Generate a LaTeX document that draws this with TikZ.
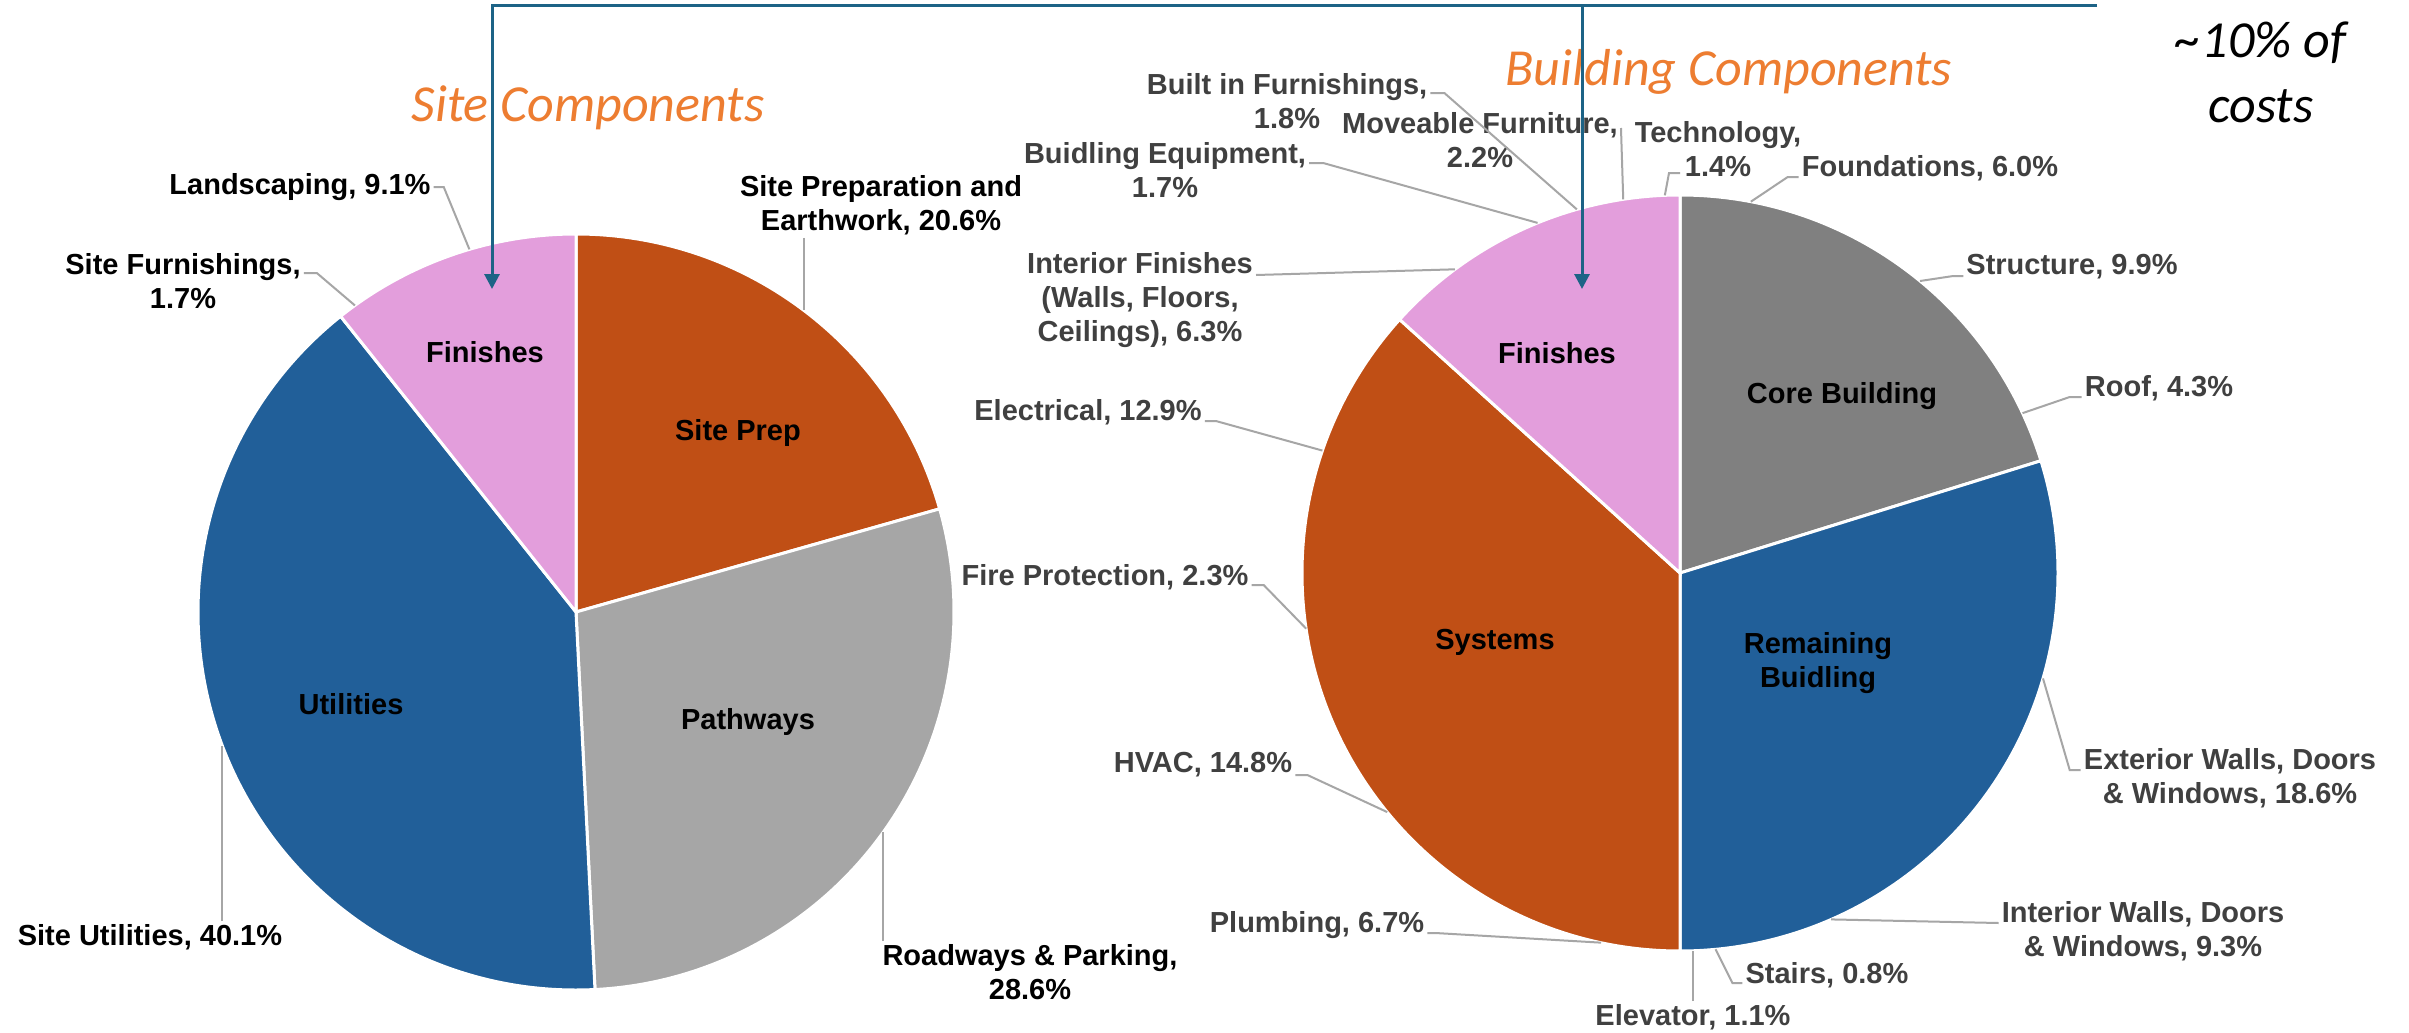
\documentclass[tikz,border=0pt]{standalone}
\usepackage{fontspec}
\setmainfont{Liberation Sans}
\newfontfamily\calibri{Carlito}
\usetikzlibrary{arrows.meta}

\definecolor{preporange}{RGB}{192,79,21}
\definecolor{pathgray}{RGB}{166,166,166}
\definecolor{coregray}{RGB}{128,128,128}
\definecolor{utilblue}{RGB}{33,95,153}
\definecolor{finpink}{RGB}{227,158,220}
\definecolor{titleorange}{RGB}{237,125,49}
\definecolor{arrowblue}{RGB}{29,99,134}
\definecolor{leadergray}{RGB}{166,166,166}
\definecolor{labelgray}{RGB}{64,64,64}

\begin{document}
\begin{tikzpicture}[
  x=1pt, y=-1pt,
  every node/.style={inner sep=3pt, align=center, font=\fontsize{29}{34}\selectfont\bfseries},
  sitelabel/.style={text=black},
  bldglabel/.style={text=labelgray},
  slicelabel/.style={text=black},
  charttitle/.style={font=\calibri\itshape\fontsize{52}{65}\selectfont, text=titleorange},
  note/.style={font=\calibri\itshape\fontsize{52}{65}\selectfont, text=black},
  slice/.style={draw=white, line width=3pt},
  leader/.style={draw=leadergray, line width=2pt},
  blueline/.style={draw=arrowblue, line width=3pt}
]
\useasboundingbox[fill=white] (0,0) rectangle (2409,1033);

% Camembert gauche
\begin{scope}[shift={(576,612)}]
  \filldraw[slice, fill=preporange] (0,0) -- (90:378pt) arc[start angle=90, end angle=15.84, radius=378pt] -- cycle;
  \filldraw[slice, fill=pathgray] (0,0) -- (15.84:378pt) arc[start angle=15.84, end angle=-87.12, radius=378pt] -- cycle;
  \filldraw[slice, fill=utilblue] (0,0) -- (-87.12:378pt) arc[start angle=-87.12, end angle=-231.48, radius=378pt] -- cycle;
  \filldraw[slice, fill=finpink] (0,0) -- (128.52:378pt) arc[start angle=128.52, end angle=90, radius=378pt] -- cycle;
  \coordinate (p-sprep) at (52.92:378pt);
  \coordinate (p-road) at (-35.64:378pt);
  \coordinate (p-util) at (200.7:378pt);
  \coordinate (p-lands) at (106.38:378pt);
  \coordinate (p-sfurn) at (125.8:378pt);
\end{scope}

\node[slicelabel] (sprep) at (738,433) {Site Prep};
\node[slicelabel] (path) at (748,722) {Pathways};
\node[slicelabel] (util) at (351,704) {Utilities};
\node[slicelabel] (sfin) at (485,352) {Finishes};

\node[sitelabel] (lsprep) at (881,205) {Site Preparation and\\Earthwork, 20.6\%};
\node[sitelabel] (llands) at (300,187) {Landscaping, 9.1\%};
\node[sitelabel] (lsfurn) at (183,281) {Site Furnishings,\\1.7\%};
\node[sitelabel] (lsutil) at (150,937) {Site Utilities, 40.1\%};
\node[sitelabel] (lroad) at (1030,972) {Roadways \& Parking,\\28.6\%};

\draw[leader] (lsprep.south -| p-sprep) -- (p-sprep);
\draw[leader] (llands.east) -- ++(10,0) -- (p-lands);
\draw[leader] ([yshift=8pt]lsfurn.east) -- ++(13,0) -- (p-sfurn);
\draw[leader] (lsutil.north -| p-util) -- (p-util);
\draw[leader] (lroad.north -| p-road) -- (p-road);

% Camembert droit
\begin{scope}[shift={(1680,573)}]
  \filldraw[slice, fill=coregray] (0,0) -- (90:378pt) arc[start angle=90, end angle=17.28, radius=378pt] -- cycle;
  \filldraw[slice, fill=utilblue] (0,0) -- (17.28:378pt) arc[start angle=17.28, end angle=-90, radius=378pt] -- cycle;
  \filldraw[slice, fill=preporange] (0,0) -- (-90:378pt) arc[start angle=-90, end angle=-222.12, radius=378pt] -- cycle;
  \filldraw[slice, fill=finpink] (0,0) -- (137.88:378pt) arc[start angle=137.88, end angle=90, radius=378pt] -- cycle;
  \coordinate (p-found) at (79.2:378pt);
  \coordinate (p-struct) at (50.58:378pt);
  \coordinate (p-roof) at (25.02:378pt);
  \coordinate (p-ext) at (-16.2:378pt);
  \coordinate (p-intw) at (-66.42:378pt);
  \coordinate (p-stairs) at (-84.6:378pt);
  \coordinate (p-elev) at (-88.02:378pt);
  \coordinate (p-plumb) at (-102.06:378pt);
  \coordinate (p-hvac) at (-140.76:378pt);
  \coordinate (p-fire) at (-171.54:378pt);
  \coordinate (p-elec) at (-198.9:378pt);
  \coordinate (p-intf) at (126.54:378pt);
  \coordinate (p-equip) at (112.14:378pt);
  \coordinate (p-built) at (105.84:378pt);
  \coordinate (p-move) at (98.64:378pt);
  \coordinate (p-tech) at (92.3:378pt);
\end{scope}

\node[slicelabel] (core) at (1842,396) {Core Building};
\node[slicelabel] (remain) at (1818,663) {Remaining\\Buidling};
\node[slicelabel] (syst) at (1495,642) {Systems};
\node[slicelabel] (bfin) at (1557,353) {Finishes};

\node[bldglabel] (rbuilt) at (1287,101) {Built in Furnishings,\\1.8\%};
\node[bldglabel] (rmove) at (1480,140) {Moveable Furniture,\\2.2\%};
\node[bldglabel] (rtech) at (1718,149) {Technology,\\1.4\%};
\node[bldglabel] (rfound) at (1930,168) {Foundations, 6.0\%};
\node[bldglabel] (rstruct) at (2072,267) {Structure, 9.9\%};
\node[bldglabel] (rroof) at (2159,388) {Roof, 4.3\%};
\node[bldglabel] (rext) at (2230,778) {Exterior Walls, Doors\\\& Windows, 18.6\%};
\node[bldglabel] (rintw) at (2143,931) {Interior Walls, Doors\\\& Windows, 9.3\%};
\node[bldglabel] (rstairs) at (1827,975) {Stairs, 0.8\%};
\node[bldglabel] (relev) at (1693,1017) {Elevator, 1.1\%};
\node[bldglabel] (rplumb) at (1317,925) {Plumbing, 6.7\%};
\node[bldglabel] (rhvac) at (1203,765) {HVAC, 14.8\%};
\node[bldglabel] (rfire) at (1105,577) {Fire Protection, 2.3\%};
\node[bldglabel] (relec) at (1088,412) {Electrical, 12.9\%};
\node[bldglabel] (rintf) at (1140,300) {Interior Finishes\\(Walls, Floors,\\Ceilings), 6.3\%};
\node[bldglabel] (requip) at (1165,170) {Buidling Equipment,\\1.7\%};

\draw[leader] ([yshift=8pt]rbuilt.east) -- ++(14,0) -- (p-built);
\draw[leader] ([yshift=12pt]rmove.east) -- (p-move);
\draw[leader] ([shift={(-38,24)}]rtech.center) -- ++(-11,0) -- (p-tech);
\draw[leader] ([yshift=-9pt]rfound.west) -- ++(-11,0) -- (p-found);
\draw[leader] ([yshift=-9pt]rstruct.west) -- ++(-10,0) -- (p-struct);
\draw[leader] ([yshift=-9pt]rroof.west) -- ++(-12,0) -- (p-roof);
\draw[leader] ([yshift=8pt]rext.west) -- ++(-11,0) -- (p-ext);
\draw[leader] ([yshift=8pt]rintw.west) -- (p-intw);
\draw[leader] ([yshift=-8pt]rstairs.west) -- ++(-10,0) -- (p-stairs);
\draw[leader] (relev.north -| p-elev) -- (p-elev);
\draw[leader] ([yshift=-8pt]rplumb.east) -- ++(8,0) -- (p-plumb);
\draw[leader] ([yshift=-10pt]rhvac.east) -- ++(12,0) -- (p-hvac);
\draw[leader] ([yshift=-8pt]rfire.east) -- ++(12,0) -- (p-fire);
\draw[leader] ([yshift=-9pt]relec.east) -- ++(11,0) -- (p-elec);
\draw[leader] ([yshift=25pt]rintf.east) -- (p-intf);
\draw[leader] ([yshift=7pt]requip.east) -- ++(14,0) -- (p-equip);

% Titres
\node[charttitle] (tsite) at (588,108) {Site Components};
\node[charttitle] (tbldg) at (1729,72) {Building Components};
\node[note] (tcost) at (2261,72) {\textasciitilde10\% of\\costs};

% Fleches
\coordinate (bend-r) at (2097,6);
\coordinate (bend-l) at (492,6);
\coordinate (tip-l) at (492,289);
\coordinate (tip-r) at (1582,289);
\draw[blueline, -{Triangle[length=15pt,width=15pt]}] (bend-r) -- (bend-l) -- (tip-l);
\draw[blueline, -{Triangle[length=15pt,width=15pt]}] (bend-r -| tip-r) -- (tip-r);
\end{tikzpicture}
\end{document}
